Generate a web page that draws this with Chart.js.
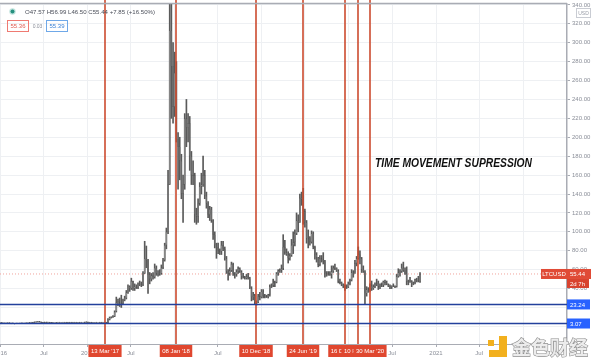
<!DOCTYPE html>
<html>
<head>
<meta charset="utf-8">
<script src="https://cdn.jsdelivr.net/npm/chart.js@4.4.1/dist/chart.umd.min.js"></script>
<style>
  html, body { margin: 0; padding: 0; background: #fff; overflow: hidden; }
</style>
</head>
<body>
<canvas id="chart" width="600" height="363"></canvas>
<script>
// LTCUSD weekly candles, first week starts on this Monday
const firstWeek = '2016-01-04';

const opens = [
  // 2016
  3.50, 3.55, 3.45, 3.20, 3.45, 3.35, 3.40, 3.40, 3.10, 3.10, 3.15, 3.20, 3.25, 3.30, 3.25, 3.15, 3.70, 3.70, 3.75, 3.80, 4.20, 4.50, 4.60, 4.75, 4.60, 3.95,
  4.25, 4.05, 4.25, 4.20, 4.00, 3.65, 3.70, 3.70, 3.75, 3.80, 3.85, 3.85, 3.80, 3.85, 3.90, 3.85, 3.90, 4.00, 3.80, 3.90, 3.95, 3.95, 3.85, 3.75, 3.75, 4.35,
  // 2017
  4.40, 3.90, 3.95, 3.85, 3.85, 3.85, 3.75, 3.75, 3.95, 3.80, 3.75, 3.85, 4.00, 7.10, 9.20, 9.60, 10.5, 15.5, 25.5, 26, 25, 24, 28, 30, 36, 42,
  40, 48, 40, 42, 41, 45, 45, 44, 56, 72, 70, 55, 50, 54, 52, 62, 56, 55, 56, 62, 70, 86, 100, 150, 313, 275,
  // 2018
  232, 268, 198, 190, 175, 140, 150, 220, 210, 215, 180, 160, 160, 118, 116, 130, 148, 150, 160, 138, 130, 118, 124, 112, 97, 86, 84,
  80, 79, 86, 82, 72, 58, 56, 59, 66, 56, 55, 58, 61, 58, 53, 52, 51, 53, 51, 40, 31, 33, 25, 25, 32, 31,
  // 2019
  37, 32, 31.5, 31, 33.5, 42, 43, 46, 46.5, 56, 59, 59.5, 61, 84, 78, 76, 72, 75, 86, 89, 98, 112, 110, 136, 134, 122,
  110, 93, 94, 89, 98, 84, 76, 73, 65, 72, 71, 69, 56, 56.5, 56, 55, 58, 62, 62, 59, 47, 46, 44, 42, 41, 41.5,
  // 2020
  45, 49, 57, 57.5, 67, 72, 76, 72, 60, 58, 35, 39, 39.5, 43, 40, 42, 45, 46, 42, 44, 43.5, 47,
  46, 44.5, 42.5, 41.5, 43, 42.5, 42, 53, 57, 58, 62, 59, 56, 47, 47.5, 48, 45, 46, 49.5, 48, 47.57
];
const highs = [
  3.70, 3.65, 3.55, 3.50, 3.50, 3.50, 3.50, 3.45, 3.20, 3.25, 3.30, 3.30, 3.35, 3.35, 3.30, 3.80, 3.80, 3.85, 3.90, 4.30, 4.70, 4.80, 4.95, 5.00, 4.65, 4.40,
  4.30, 4.35, 4.35, 4.25, 4.05, 3.80, 3.80, 3.85, 3.90, 3.95, 3.95, 3.90, 3.95, 4.00, 3.95, 3.95, 4.10, 4.05, 3.95, 4.05, 4.05, 4.00, 3.90, 3.85, 4.50, 4.55,
  4.55, 4.10, 4.05, 3.95, 3.95, 3.90, 3.85, 4.05, 4.00, 3.85, 3.95, 4.20, 8.20, 10.0, 10.2, 11.5, 16.5, 31, 29, 30, 33, 29, 32, 38, 44, 43,
  51, 48, 45, 44, 46, 48, 47, 58, 90, 85, 71, 57, 56, 57, 66, 64, 59, 60, 65, 72, 88, 104, 165, 365, 375, 300,
  290, 280, 205, 200, 182, 160, 225, 240, 225, 222, 185, 175, 162, 125, 135, 152, 162, 180, 165, 142, 132, 127, 126, 113, 100, 88, 88,
  82, 90, 90, 84, 74, 60, 62, 68, 67, 57, 60, 63, 62, 59, 56, 53, 55, 56, 52, 42, 36, 34, 27, 34, 36, 39,
  39, 34, 33, 34, 44, 45, 50, 48, 57, 60, 61, 65, 97, 91, 82, 79, 77, 92, 100, 102, 120, 118, 140, 142, 146, 124,
  112, 102, 95, 101, 100, 85, 78, 73, 75, 75, 78, 70, 58, 58, 58, 64, 64, 66, 62, 60, 50, 47, 45, 44, 44, 47,
  50, 60, 59, 70, 74, 84, 80, 73, 64, 59, 42, 41, 45, 48, 44, 46, 50, 48, 45, 46, 48, 49,
  48, 45, 44, 43, 45, 43, 55, 61, 60, 66, 68, 62, 63, 49, 52, 48.5, 47, 50, 51, 53, 56.99
];
const lows = [
  3.35, 3.35, 3.05, 3.10, 3.25, 3.25, 3.30, 3.00, 2.95, 3.05, 3.10, 3.15, 3.20, 3.15, 3.05, 3.10, 3.55, 3.60, 3.65, 3.70, 4.05, 4.35, 4.45, 4.40, 3.70, 3.85,
  3.95, 3.95, 4.10, 3.90, 3.55, 3.55, 3.60, 3.60, 3.65, 3.70, 3.75, 3.70, 3.75, 3.75, 3.75, 3.75, 3.80, 3.70, 3.70, 3.80, 3.85, 3.75, 3.65, 3.60, 3.70, 4.15,
  3.35, 3.80, 3.75, 3.75, 3.75, 3.65, 3.65, 3.70, 3.70, 3.65, 3.70, 3.80, 3.95, 6.80, 8.80, 9.40, 10.3, 15.2, 22, 21, 20, 23, 27, 29, 35, 37,
  39, 38, 38, 40, 40, 43, 42, 43, 56, 62, 35, 45, 48, 50, 51, 54, 53, 54, 55, 61, 69, 82, 98, 150, 220, 215,
  222, 195, 145, 155, 135, 110, 145, 190, 195, 165, 150, 150, 110, 108, 110, 128, 140, 148, 135, 125, 115, 112, 110, 92, 83, 72, 77,
  76, 76, 80, 70, 56, 49, 54, 58, 54, 51, 53, 56, 57, 50, 51, 50, 50, 50, 40, 27, 28, 24, 22.5, 25, 28, 30,
  30, 30, 30.5, 30, 32, 41, 42, 42, 46, 54, 57, 57, 60, 76, 75, 67, 70, 74, 77, 85, 97, 100, 110, 128, 108, 105,
  88, 83, 86, 88, 82, 71, 68, 63, 64, 68, 66, 52, 53, 54, 54, 51, 57, 60, 58, 46, 45, 43, 41, 38, 40, 41,
  44, 48, 52, 56, 64, 71, 66, 57, 57, 23.5, 32, 36, 37, 38, 39, 41, 43, 39, 40, 42, 42, 44,
  44, 42, 40, 40, 42, 41, 41.5, 52, 53, 57, 58, 55, 44, 44, 46.5, 42, 44, 45, 47, 47, 46.50
];
const closes = [
  3.55, 3.45, 3.20, 3.45, 3.35, 3.40, 3.40, 3.10, 3.10, 3.15, 3.20, 3.25, 3.30, 3.25, 3.15, 3.70, 3.70, 3.75, 3.80, 4.20, 4.50, 4.60, 4.75, 4.60, 3.95, 4.25,
  4.05, 4.25, 4.20, 4.00, 3.65, 3.70, 3.70, 3.75, 3.80, 3.85, 3.85, 3.80, 3.85, 3.90, 3.85, 3.90, 4.00, 3.80, 3.90, 3.95, 3.95, 3.85, 3.75, 3.75, 4.35, 4.40,
  3.90, 3.95, 3.85, 3.85, 3.85, 3.75, 3.75, 3.95, 3.80, 3.75, 3.85, 4.00, 7.10, 9.20, 9.60, 10.5, 15.5, 25.5, 26, 25, 24, 28, 30, 36, 42, 40,
  48, 40, 42, 41, 45, 45, 44, 56, 72, 70, 55, 50, 54, 52, 62, 56, 55, 56, 62, 70, 86, 100, 150, 313, 275, 232,
  268, 198, 190, 175, 140, 150, 220, 210, 215, 180, 160, 160, 118, 116, 130, 148, 150, 160, 138, 130, 118, 124, 112, 97, 86, 84, 80,
  79, 86, 82, 72, 58, 56, 59, 66, 56, 55, 58, 61, 58, 53, 52, 51, 53, 51, 40, 31, 33, 25, 25, 32, 31, 37,
  32, 31.5, 31, 33.5, 42, 43, 46, 46.5, 56, 59, 59.5, 61, 84, 78, 76, 72, 75, 86, 89, 98, 112, 110, 136, 134, 122, 110,
  93, 94, 89, 98, 84, 76, 73, 65, 72, 71, 69, 56, 56.5, 56, 55, 58, 62, 62, 59, 47, 46, 44, 42, 41, 41.5, 45,
  49, 57, 57.5, 67, 72, 76, 72, 60, 58, 35, 39, 39.5, 43, 40, 42, 45, 46, 42, 44, 43.5, 47, 46,
  44.5, 42.5, 41.5, 43, 42.5, 42, 53, 57, 58, 62, 59, 56, 47, 47.5, 48, 45, 46, 49.5, 48, 47.57, 55.44
];

// time axis
const xTickDates = ['2016-01-01', '2016-07-01', '2017-01-01', '2017-07-01', '2018-01-01', '2018-07-01', '2019-01-01',
  '2019-07-01', '2020-01-01', '2020-07-01', '2021-01-01', '2021-07-01', '2022-01-01'];
const xTickLabels = ['2016', 'Jul', '2017', 'Jul', '2018', 'Jul', '2019', 'Jul', '2020', 'Jul', '2021', 'Jul', '2022'];
const yTickValues = [0, 20, 40, 60, 80, 100, 120, 140, 160, 180, 200, 220, 240, 260, 280, 300, 320, 340];

// annotations
const eventDates = ['2017-03-13', '2018-01-08', '2018-12-10', '2019-06-24', '2019-12-16', '2020-02-10', '2020-03-30'];
const eventLabels = ["13 Mar '17", "08 Jan '18", "10 Dec '18", "24 Jun '19", "16 Dec '19", "10 Feb '20", "30 Mar '20"];
const levels = [23.24, 3.07];
const lastPrice = 55.44;
const ohlcText = 'O47.57 H56.99 L46.50 C55.44 +7.85 (+16.50%)';
const bidAsk = ['55.36', '0.03', '55.39'];
const noteText = 'TIME MOVEMENT SUPRESSION';

const toDay = s => (Date.parse(s + 'T00:00:00Z') - Date.UTC(2017, 0, 1)) / 864e5;
const startDay = toDay(firstWeek);
const weekDays = opens.map((_, i) => startDay + 7 * i);
const xTickDays = xTickDates.map(toDay);
const eventDays = eventDates.map(toDay);

const FONT = '"Liberation Sans", Arial, sans-serif';

function labelBox(ctx, text, x, y, w, h, fill, color, align) {
  ctx.fillStyle = fill;
  ctx.fillRect(x, y, w, h);
  ctx.fillStyle = color;
  ctx.textAlign = align || 'center';
  ctx.textBaseline = 'middle';
  ctx.fillText(text, align === 'left' ? x + 3 : x + w / 2, y + h / 2 + 0.5);
}

const overlays = {
  id: 'overlays',
  beforeDatasetsDraw(chart) {
    const { ctx, chartArea, scales: { y } } = chart;
    const py = y.getPixelForValue(lastPrice);
    ctx.save();
    ctx.strokeStyle = '#f1a39b';
    ctx.setLineDash([1, 2]);
    ctx.lineWidth = 1;
    ctx.beginPath();
    ctx.moveTo(chartArea.left, py);
    ctx.lineTo(chartArea.right, py);
    ctx.stroke();
    ctx.restore();
  },
  afterDatasetsDraw(chart) {
    const { ctx, chartArea, scales: { x, y } } = chart;
    ctx.save();
    ctx.strokeStyle = '#cc4b2f';
    ctx.lineWidth = 1.6;
    eventDays.forEach(d => {
      const px = Math.round(x.getPixelForValue(d));
      ctx.beginPath();
      ctx.moveTo(px, 0);
      ctx.lineTo(px, chartArea.bottom);
      ctx.stroke();
    });
    ctx.strokeStyle = '#23409c';
    ctx.lineWidth = 1.4;
    levels.forEach(v => {
      const py = y.getPixelForValue(v);
      ctx.beginPath();
      ctx.moveTo(chartArea.left, py);
      ctx.lineTo(chartArea.right, py);
      ctx.stroke();
    });
    // top pane border
    ctx.strokeStyle = '#a9acb4';
    ctx.lineWidth = 1.5;
    ctx.beginPath();
    ctx.moveTo(0, 3.5);
    ctx.lineTo(chartArea.right, 3.5);
    ctx.stroke();
    ctx.restore();
  },
  afterDraw(chart) {
    const { ctx, chartArea, scales: { x, y } } = chart;
    ctx.save();
    ctx.font = '6px ' + FONT;

    // event date boxes on the time axis
    eventDays.forEach((d, i) => {
      const px = Math.round(x.getPixelForValue(d));
      const w = ctx.measureText(eventLabels[i]).width + 5;
      labelBox(ctx, eventLabels[i], px - w / 2, chartArea.bottom + 1, w, 12, '#e0472f', '#fff');
    });

    // level boxes on the price axis
    levels.forEach(v => {
      const py = y.getPixelForValue(v);
      labelBox(ctx, v.toFixed(2), chartArea.right, py - 5, 23, 10, '#2962ff', '#fff', 'left');
    });

    // last price
    const py = y.getPixelForValue(lastPrice);
    labelBox(ctx, 'LTCUSD', chartArea.right - 26, py - 5, 26, 10, '#e04a36', '#fff');
    labelBox(ctx, lastPrice.toFixed(2), chartArea.right, py - 5, 24, 10, '#e04a36', '#fff', 'left');
    labelBox(ctx, '2d 7h', chartArea.right, py + 5, 22, 9, '#d8432f', '#fff', 'left');

    // USD badge
    ctx.strokeStyle = '#c9ccd3';
    ctx.lineWidth = 1;
    ctx.strokeRect(576.5, 8.5, 14, 9);
    ctx.fillStyle = '#fff';
    ctx.fillRect(577, 9, 13, 8);
    ctx.fillStyle = '#9a9ea8';
    ctx.textAlign = 'center';
    ctx.textBaseline = 'middle';
    ctx.font = '5px ' + FONT;
    ctx.fillText('USD', 583.5, 13.5);

    // legend row
    ctx.fillStyle = '#bfe3dd';
    ctx.beginPath(); ctx.arc(12.5, 11.5, 3.2, 0, Math.PI * 2); ctx.fill();
    ctx.fillStyle = '#26917f';
    ctx.beginPath(); ctx.arc(12.5, 11.5, 2, 0, Math.PI * 2); ctx.fill();
    ctx.font = '6px ' + FONT;
    ctx.fillStyle = '#4a4e59';
    ctx.textAlign = 'left';
    const tw = ctx.measureText(ohlcText).width;
    ctx.save();
    ctx.translate(25, 12);
    ctx.scale(130 / tw, 1);
    ctx.fillText(ohlcText, 0, 0);
    ctx.restore();

    ctx.lineWidth = 1;
    ctx.strokeStyle = '#ef7a72';
    ctx.strokeRect(7.5, 20.5, 21, 11);
    ctx.fillStyle = '#e0594f';
    ctx.textAlign = 'center';
    ctx.fillText(bidAsk[0], 18, 26.5);
    ctx.fillStyle = '#8a8e98';
    ctx.font = '5px ' + FONT;
    ctx.fillText(bidAsk[1], 37.5, 26.5);
    ctx.font = '6px ' + FONT;
    ctx.strokeStyle = '#6fa8e8';
    ctx.strokeRect(46.5, 20.5, 21, 11);
    ctx.fillStyle = '#3b82d6';
    ctx.fillText(bidAsk[2], 57, 26.5);

    // note text
    ctx.font = 'italic bold 12px ' + FONT;
    ctx.fillStyle = '#111';
    ctx.textAlign = 'left';
    ctx.textBaseline = 'alphabetic';
    const nw = ctx.measureText(noteText).width;
    ctx.save();
    ctx.translate(375, 167);
    ctx.scale(157 / nw, 1);
    ctx.fillText(noteText, 0, 0);
    ctx.restore();

    // watermark
    ctx.fillStyle = '#f2b01e';
    ctx.fillRect(488, 340, 6, 6);
    ctx.fillRect(499, 336, 8, 21);
    ctx.fillRect(489, 350, 18, 7);
    ctx.fillStyle = '#fff';
    ctx.fillRect(495, 336, 3, 2);
    ctx.font = 'bold 19px "Noto Sans CJK SC"';
    ctx.textAlign = 'left';
    ctx.textBaseline = 'middle';
    ctx.lineWidth = 1.2;
    ctx.strokeStyle = '#8d8d8d';
    ctx.strokeText('金色财经', 512, 348);
    ctx.fillStyle = '#ececec';
    ctx.fillText('金色财经', 512, 348);
    ctx.restore();
  }
};

new Chart(document.getElementById('chart'), {
  type: 'bar',
  data: {
    datasets: [
      {
        label: 'body',
        data: weekDays.map((d, i) => ({ x: d, y: [opens[i], closes[i]] })),
        backgroundColor: c => (c.raw && c.raw.y[1] >= c.raw.y[0]) ? '#a8a8a8' : '#7a7a7a',
        borderColor: '#474747',
        borderWidth: 0.4,
        borderSkipped: false,
        barPercentage: 0.85,
        categoryPercentage: 1,
        minBarLength: 1,
        grouped: false,
        order: 0
      },
      {
        label: 'wick',
        data: weekDays.map((d, i) => ({ x: d, y: [lows[i], highs[i]] })),
        backgroundColor: '#5a5a5a',
        barThickness: 1,
        grouped: false,
        order: 1
      }
    ]
  },
  options: {
    responsive: false,
    devicePixelRatio: 1,
    animation: false,
    layout: { padding: { top: 4, left: 0, right: 0, bottom: 0 } },
    plugins: { legend: { display: false }, tooltip: { enabled: false } },
    scales: {
      x: {
        type: 'linear',
        min: -367.9,
        max: 2010.5,
        offset: false,
        grid: { color: '#eef0f3', offset: false, tickLength: 3, tickColor: '#a9acb4' },
        border: { color: '#a9acb4', width: 1 },
        afterBuildTicks: s => { s.ticks = xTickDays.map(v => ({ value: v })); },
        afterFit: s => { s.height = 19; s.paddingLeft = 0; s.paddingRight = 0; },
        ticks: {
          autoSkip: false,
          maxRotation: 0,
          padding: 3,
          color: '#8a8e98',
          font: { size: 6, family: FONT },
          callback: (v, i) => xTickLabels[i]
        }
      },
      y: {
        position: 'right',
        min: -18.6,
        max: 340.9,
        grid: { color: '#eef0f3', tickLength: 3, tickColor: '#a9acb4' },
        border: { color: '#a9acb4', width: 1.5 },
        afterBuildTicks: s => { s.ticks = yTickValues.map(v => ({ value: v })); },
        afterFit: s => { s.width = 33; s.paddingTop = 0; s.paddingBottom = 0; },
        ticks: {
          padding: 2,
          color: '#8a8e98',
          font: { size: 6, family: FONT },
          callback: v => Number(v).toFixed(2)
        }
      }
    }
  },
  plugins: [overlays]
});
</script>
</body>
</html>
